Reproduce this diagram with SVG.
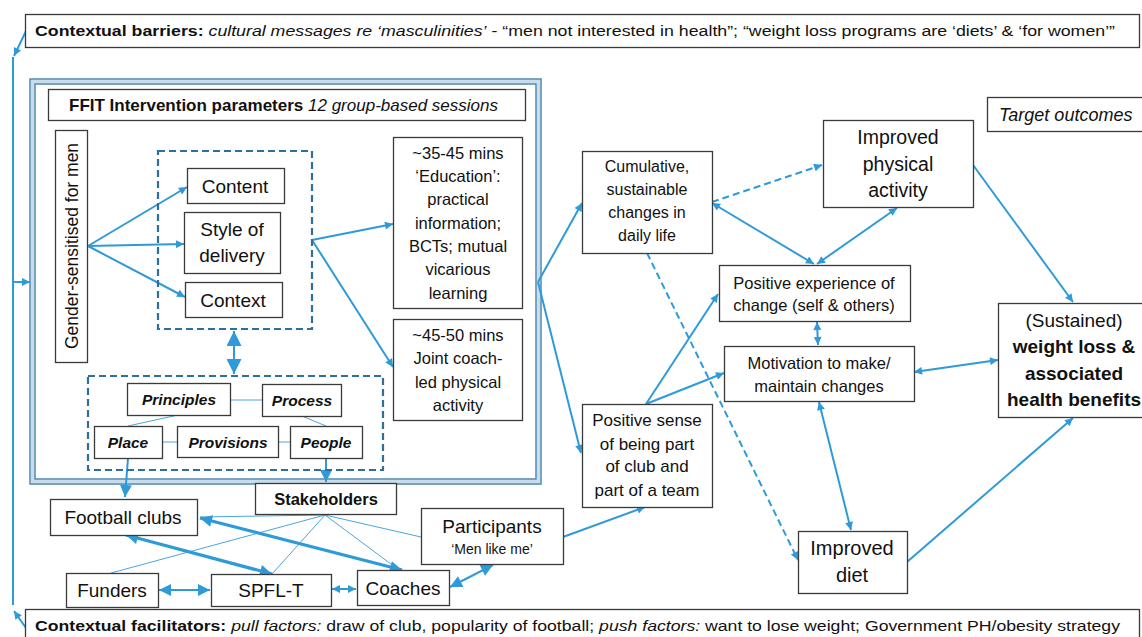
<svg xmlns="http://www.w3.org/2000/svg" width="1142" height="637" viewBox="0 0 1142 637">
<style>
.box{fill:#fff;stroke:#3a3a3a;stroke-width:1.3}
.dash{fill:none;stroke:#2e6f9c;stroke-width:2.2;stroke-dasharray:7 4}
.c{fill:none;stroke:#2f9ad8;stroke-width:2}
.cd{fill:none;stroke:#2f9ad8;stroke-width:2;stroke-dasharray:7 4}
.th{fill:none;stroke:#4aa6dc;stroke-width:1}
.tk{fill:none;stroke:#2f9ad8;stroke-width:3.2}
.t{font-family:"Liberation Sans",Arial,sans-serif;fill:#111}
.m{text-anchor:middle}
.b{font-weight:bold}
.i{font-style:italic}
</style>
<defs>
<marker id="a" viewBox="0 0 10 10" refX="10" refY="5" markerWidth="9" markerHeight="8" markerUnits="userSpaceOnUse" orient="auto-start-reverse"><path d="M0,0L10,5L0,10z" fill="#2f9ad8"/></marker>
<marker id="aL" viewBox="0 0 10 10" refX="10" refY="5" markerWidth="13" markerHeight="12" markerUnits="userSpaceOnUse" orient="auto-start-reverse"><path d="M0,0L10,5L0,10z" fill="#2f9ad8"/></marker>
<marker id="aX" viewBox="0 0 10 10" refX="10" refY="5" markerWidth="16" markerHeight="15" markerUnits="userSpaceOnUse" orient="auto-start-reverse"><path d="M0,0L10,5L0,10z" fill="#2f9ad8"/></marker>
</defs>

<g id="frame">
<rect x="32.5" y="81.5" width="506" height="400" fill="none" stroke="#c9dcea" stroke-width="3.5"/>
<rect x="30" y="79" width="511" height="405" fill="none" stroke="#4e86b0" stroke-width="1.5"/>
<rect x="35" y="84" width="501" height="395" fill="none" stroke="#4e86b0" stroke-width="1.5"/>
</g>

<g id="connectors">
<path class="c" d="M26,31L14,56" marker-end="url(#a)"/>
<path class="c" d="M13,57L13,605" stroke-width="2.5"/>
<path class="c" d="M26,628L14,611" marker-end="url(#a)"/>
<path class="c" d="M13,282L30,282" marker-end="url(#a)"/>
<path class="c" d="M88,246L187,187" marker-end="url(#a)"/>
<path class="c" d="M88,246L184,244" marker-end="url(#a)"/>
<path class="c" d="M88,246L185,297" marker-end="url(#a)"/>
<path class="c" d="M312,240L393,224" marker-end="url(#a)"/>
<path class="c" d="M312,240L393,367" marker-end="url(#a)"/>
<path class="c" d="M234,331L234,374" stroke-width="5" marker-start="url(#aX)" marker-end="url(#aX)"/>
<path class="th" d="M230,400L262,400M178,415L128,426M302,416L326,426M162,442L177,442M278,442L290,442"/>
<path class="c" d="M128,458L125,497" stroke-width="4" marker-end="url(#aL)"/>
<path class="c" d="M326,458L326,482" stroke-width="4" marker-end="url(#aL)"/>
<path class="th" d="M325,515L200,517M325,515L111,573M325,515L272,574M325,515L399,570M325,515L421,537"/>
<path class="tk" d="M200,518L402,570" marker-start="url(#aL)" marker-end="url(#aL)"/>
<path class="tk" d="M126,535L272,574" marker-start="url(#aL)" marker-end="url(#aL)"/>
<path class="c" d="M159,590L210,590" stroke-width="2.6" marker-start="url(#aL)" marker-end="url(#aL)"/>
<path class="c" d="M332,589L356,589" stroke-width="2.6" marker-start="url(#a)" marker-end="url(#a)"/>
<path class="c" d="M450,587L493,565" stroke-width="2.6" marker-start="url(#aL)" marker-end="url(#aL)"/>
<path class="c" d="M563,537L645,507" marker-end="url(#a)"/>
<path class="c" d="M538,282L582,203" marker-end="url(#a)"/>
<path class="c" d="M538,282L581,453" marker-end="url(#a)"/>
<path class="cd" d="M712,202L822,165" marker-end="url(#a)"/>
<path class="c" d="M712,203L814,264" marker-start="url(#a)" marker-end="url(#a)"/>
<path class="c" d="M897,208L817,264" marker-start="url(#a)" marker-end="url(#a)"/>
<path class="c" d="M973,165L1073,302" marker-end="url(#a)"/>
<path class="cd" d="M647,253L798,560" marker-end="url(#a)"/>
<path class="c" d="M646,404L718,294" marker-end="url(#a)"/>
<path class="c" d="M646,404L724,373" marker-end="url(#a)"/>
<path class="c" d="M817,322L818,345" marker-start="url(#a)" marker-end="url(#a)"/>
<path class="c" d="M914,372L998,360" marker-start="url(#a)" marker-end="url(#a)"/>
<path class="c" d="M819,402L851,530" marker-start="url(#a)" marker-end="url(#a)"/>
<path class="c" d="M907,562L1073,418" marker-end="url(#a)"/>
</g>

<g id="barriers">
<rect class="box" x="25.5" y="14.5" width="1114" height="33"/>
<text class="t" x="35" y="36" font-size="15.5" textLength="1080" lengthAdjust="spacingAndGlyphs"><tspan class="b">Contextual barriers:</tspan><tspan class="i"> cultural messages re ‘masculinities’</tspan> - “men not interested in health”; “weight loss programs are ‘diets’ &amp; ‘for women’”</text>
</g>

<g id="facilitators">
<rect class="box" x="25.5" y="609.5" width="1114" height="40"/>
<text class="t" x="35" y="631" font-size="15.5" textLength="1085" lengthAdjust="spacingAndGlyphs"><tspan class="b">Contextual facilitators:</tspan><tspan class="i"> pull factors:</tspan> draw of club, popularity of football;<tspan class="i"> push factors:</tspan> want to lose weight; Government PH/obesity strategy</text>
</g>

<g id="ffit-header">
<rect class="box" x="48.5" y="89.5" width="477" height="31"/>
<text class="t" x="69" y="111" font-size="17" textLength="429" lengthAdjust="spacingAndGlyphs"><tspan class="b">FFIT Intervention parameters</tspan><tspan class="i"> 12 group-based sessions</tspan></text>
</g>

<g id="gender">
<rect class="box" x="55.5" y="130.5" width="32" height="232"/>
<text class="t m" transform="translate(78,246) rotate(-90)" font-size="17.5">Gender-sensitised for men</text>
</g>

<g id="delivery-group">
<rect class="dash" x="158" y="151" width="154" height="178"/>
</g>
<g id="content"><rect class="box" x="187.5" y="168.5" width="97" height="35"/><text class="t m" x="235" y="193" font-size="19">Content</text></g>
<g id="style"><rect class="box" x="184.5" y="212.5" width="96" height="61"/><text class="t m" x="232" y="236" font-size="19">Style of</text><text class="t m" x="232" y="262" font-size="19">delivery</text></g>
<g id="context"><rect class="box" x="185.5" y="282.5" width="97" height="35"/><text class="t m" x="233" y="307" font-size="19">Context</text></g>

<g id="education">
<rect class="box" x="393.5" y="137.5" width="129" height="171"/>
<text class="t m" font-size="16.5"><tspan x="458" y="159">~35-45 mins</tspan><tspan x="458" y="182">‘Education’:</tspan><tspan x="458" y="205">practical</tspan><tspan x="458" y="229">information;</tspan><tspan x="458" y="252">BCTs; mutual</tspan><tspan x="458" y="275">vicarious</tspan><tspan x="458" y="299">learning</tspan></text>
</g>
<g id="joint">
<rect class="box" x="393.5" y="319.5" width="129" height="101"/>
<text class="t m" font-size="16.5"><tspan x="458" y="341">~45-50 mins</tspan><tspan x="458" y="364">Joint coach-</tspan><tspan x="458" y="388">led physical</tspan><tspan x="458" y="411">activity</tspan></text>
</g>

<g id="p-group"><rect class="dash" x="88" y="376" width="295" height="94"/></g>
<g id="principles"><rect class="box" x="127.5" y="383.5" width="103" height="32"/><text class="t m b i" x="179" y="405" font-size="15.5">Principles</text></g>
<g id="process"><rect class="box" x="262.5" y="384.5" width="79" height="32"/><text class="t m b i" x="302" y="406" font-size="15.5">Process</text></g>
<g id="place"><rect class="box" x="94.5" y="426.5" width="68" height="32"/><text class="t m b i" x="128" y="448" font-size="15.5">Place</text></g>
<g id="provisions"><rect class="box" x="177.5" y="426.5" width="101" height="31"/><text class="t m b i" x="228" y="448" font-size="15.5">Provisions</text></g>
<g id="people"><rect class="box" x="290.5" y="426.5" width="72" height="32"/><text class="t m b i" x="326" y="448" font-size="15.5">People</text></g>

<g id="stakeholders"><rect class="box" x="255.5" y="483.5" width="141" height="31"/><text class="t m b" x="326" y="505" font-size="16.5">Stakeholders</text></g>
<g id="football"><rect class="box" x="50.5" y="499.5" width="147" height="36"/><text class="t m" x="123" y="524" font-size="19">Football clubs</text></g>
<g id="participants"><rect class="box" x="421.5" y="508.5" width="142" height="56"/><text class="t m" x="492" y="533" font-size="19">Participants</text><text class="t m" x="492" y="554" font-size="14">‘Men like me’</text></g>
<g id="funders"><rect class="box" x="66.5" y="573.5" width="92" height="34"/><text class="t m" x="112" y="597" font-size="19">Funders</text></g>
<g id="spfl"><rect class="box" x="211.5" y="574.5" width="120" height="32"/><text class="t m" x="271" y="597" font-size="19">SPFL-T</text></g>
<g id="coaches"><rect class="box" x="357.5" y="570.5" width="92" height="35"/><text class="t m" x="403" y="595" font-size="19">Coaches</text></g>

<g id="cumulative"><rect class="box" x="582.5" y="151.5" width="130" height="102"/><text class="t m" font-size="16"><tspan x="647" y="172">Cumulative,</tspan><tspan x="647" y="195">sustainable</tspan><tspan x="647" y="218">changes in</tspan><tspan x="647" y="241">daily life</tspan></text></g>
<g id="pa"><rect class="box" x="823.5" y="120.5" width="150" height="87"/><text class="t m" font-size="19.5"><tspan x="898" y="144">Improved</tspan><tspan x="898" y="171">physical</tspan><tspan x="898" y="197">activity</tspan></text></g>
<g id="target"><rect class="box" x="987.5" y="97.5" width="160" height="34"/><text class="t i" x="999" y="121" font-size="18">Target outcomes</text></g>
<g id="posexp"><rect class="box" x="719.5" y="265.5" width="191" height="56"/><text class="t m" font-size="16.5"><tspan x="814" y="289">Positive experience of</tspan><tspan x="814" y="311">change (self &amp; others)</tspan></text></g>
<g id="motivation"><rect class="box" x="724.5" y="346.5" width="190" height="55"/><text class="t m" font-size="16.5"><tspan x="819" y="369">Motivation to make/</tspan><tspan x="819" y="392">maintain changes</tspan></text></g>
<g id="sustained"><rect class="box" x="998.5" y="303.5" width="150" height="114"/><text class="t m" font-size="19"><tspan x="1074" y="327">(Sustained)</tspan><tspan x="1074" y="353" font-weight="bold">weight loss &amp;</tspan><tspan x="1074" y="380" font-weight="bold">associated</tspan><tspan x="1074" y="406" font-weight="bold">health benefits</tspan></text></g>
<g id="possense"><rect class="box" x="582.5" y="404.5" width="130" height="103"/><text class="t m" font-size="17"><tspan x="647" y="426">Positive sense</tspan><tspan x="647" y="450">of being part</tspan><tspan x="647" y="472">of club and</tspan><tspan x="647" y="496">part of a team</tspan></text></g>
<g id="diet"><rect class="box" x="798.5" y="531.5" width="109" height="62"/><text class="t m" font-size="20"><tspan x="852" y="555">Improved</tspan><tspan x="852" y="582">diet</tspan></text></g>
</svg>
